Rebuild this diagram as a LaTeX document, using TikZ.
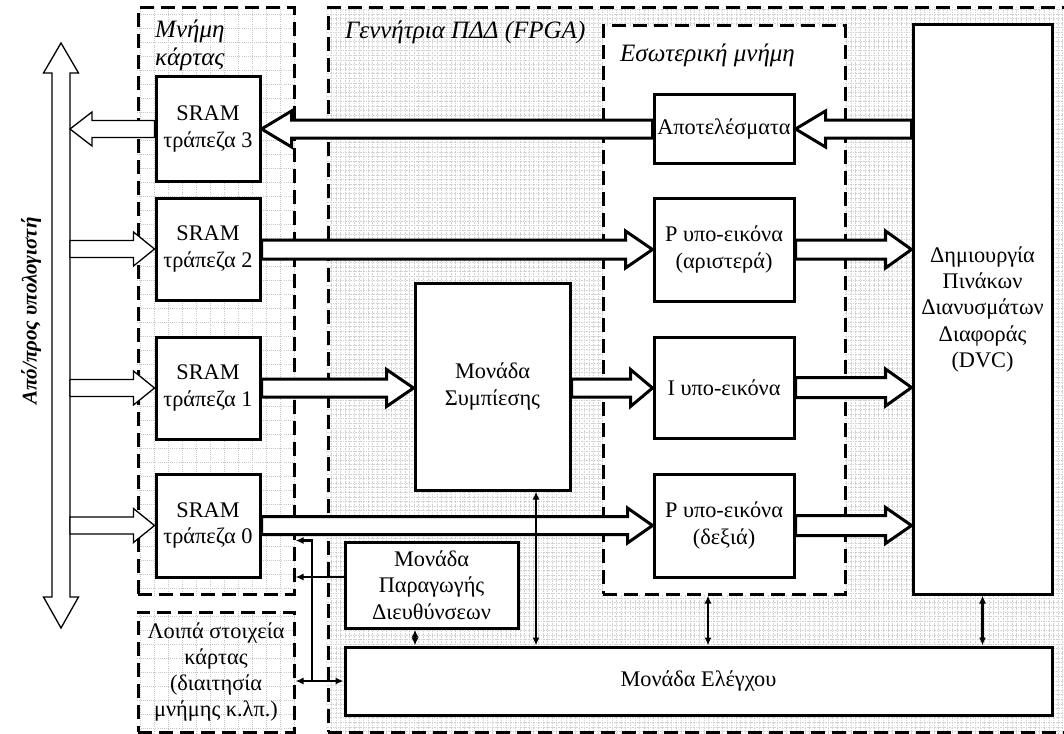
\documentclass[tikz,border=0pt]{standalone}
\usepackage{fontspec}
\setmainfont{Liberation Serif}
\usetikzlibrary{arrows.meta,calc,backgrounds}
\newcommand\blockarrow[6]{%
  \draw[#1] let \p1=#2, \p2=#3 in
  (\x1,{\y2+#5}) -- ({\x2+(#4)},{\y2+#5}) -- ({\x2+(#4)},{\y2+#6}) -- (\x2,\y2)
  -- ({\x2+(#4)},{\y2-#6}) -- ({\x2+(#4)},{\y2-#5}) -- (\x1,{\y2-#5}) -- cycle;}
\tikzset{
  txt/.style={font=\fontsize{22.3}{26.3}\selectfont},
  lab/.style={font=\fontsize{25}{28}\selectfont\itshape, inner sep=0pt},
  box/.style={txt, draw, line width=3pt, fill=white, align=center, inner sep=0pt},
  region/.style={txt, draw, line width=3pt, dash pattern=on 14pt off 7pt, inner sep=0pt, align=center},
  bthick/.style={draw, fill=white, line width=3pt},
  bthin/.style={draw, fill=white, line width=1.3pt},
  conn/.style={line width=2.3pt, {Latex[length=8pt,width=7pt]}-{Latex[length=8pt,width=7pt]}},
  conn1/.style={line width=2.3pt, -{Latex[length=8pt,width=7pt]}},
  finegrid/.style={gray!35, line width=0.35pt, dash pattern=on 0.35pt off 1.3pt},
  cardgrid/.style={gray!45, line width=0.8pt, dash pattern=on 0.8pt off 1.3pt},
}
\begin{document}
\begin{tikzpicture}[x=1pt,y=-1pt]
\useasboundingbox (0,0) rectangle (1064,733);
% regions
\node[region, minimum width=747, minimum height=724] (fpga) at (701.5,370) {};
\node[region, fill=white, minimum width=242, minimum height=568] (imem) at (724,310) {};
\node[region, minimum width=156, minimum height=586] (card) at (216,301) {};
\node[region, minimum width=156, minimum height=120] (other) at (216,672) {Λοιπά στοιχεία\\κάρτας\\(διαιτησία\\μνήμης κ.λπ.)};
\begin{scope}[on background layer]
  \begin{scope}
    \clip (fpga.south west) rectangle (fpga.north east);
    \draw[finegrid] (fpga.south west) grid[step=4.6pt] (fpga.north east);
  \end{scope}
  \begin{scope}
    \clip (card.south west) rectangle (card.north east);
    \draw[cardgrid] (card.south west) grid[step=14pt] (card.north east);
  \end{scope}
  \begin{scope}
    \clip (other.south west) rectangle (other.north east);
    \draw[cardgrid] (other.south west) grid[step=14pt] (other.north east);
  \end{scope}
\end{scope}
% labels
\node[lab, anchor=north west, align=left] (cardlab) at (155,20) {Μνήμη\\κάρτας};
\node[lab, anchor=base west] (fpgalab) at (345,39) {Γεννήτρια ΠΔΔ (FPGA)};
\node[lab, anchor=base west] (imemlab) at (620,62) {Εσωτερική μνήμη};
\node[font=\fontsize{21}{24}\selectfont\bfseries\itshape, rotate=90] (pc) at (31,311) {Από/προς υπολογιστή};
% boxes
\node[box, minimum width=104, minimum height=104] (sram3) at (208,129) {SRAM\\τράπεζα 3};
\node[box, minimum width=104, minimum height=102] (sram2) at (208,249) {SRAM\\τράπεζα 2};
\node[box, minimum width=104, minimum height=102] (sram1) at (208,388) {SRAM\\τράπεζα 1};
\node[box, minimum width=104, minimum height=103] (sram0) at (208,525.5) {SRAM\\τράπεζα 0};
\node[box, minimum width=140, minimum height=68] (res) at (724,129) {Αποτελέσματα};
\node[box, minimum width=140, minimum height=103] (pl) at (724,249.5) {P υπο-εικόνα\\(αριστερά)};
\node[box, minimum width=140, minimum height=101] (isub) at (724,387.5) {I υπο-εικόνα};
\node[box, minimum width=140, minimum height=103] (pr) at (724,525.5) {P υπο-εικόνα\\(δεξιά)};
\node[box, minimum width=155, minimum height=207] (comp) at (492.5,386.5) {Μονάδα\\Συμπίεσης};
\node[box, minimum width=139, minimum height=569] (dvc) at (982.5,309.5) {Δημιουργία\\Πινάκων\\Διανυσμάτων\\Διαφοράς\\(DVC)};
\node[box, minimum width=173, minimum height=86] (addr) at (431.5,585) {Μονάδα\\Παραγωγής\\Διευθύνσεων};
\node[box, minimum width=707, minimum height=68] (ctrl) at (698.5,681) {Μονάδα Ελέγχου};
% bus
\draw[bthin] (61,43) -- (78.5,73) -- (70,73) -- (70,597) -- (78.5,597) -- (61,628)
  -- (43.5,597) -- (52,597) -- (52,73) -- (43.5,73) -- cycle;
\coordinate (busR) at (70,300);
% thin block arrows
\blockarrow{bthin}{(sram3.west)}{(busR |- sram3.west)}{22pt}{8.5pt}{17pt}
\blockarrow{bthin}{(busR |- sram2.west)}{(sram2.west)}{-21pt}{8.5pt}{17pt}
\blockarrow{bthin}{(busR |- sram1.west)}{(sram1.west)}{-21pt}{8.5pt}{17pt}
\blockarrow{bthin}{(busR |- sram0.west)}{(sram0.west)}{-21pt}{8.5pt}{17pt}
% thick block arrows
\blockarrow{bthick}{(res.west)}{(sram3.east)}{30pt}{9pt}{18pt}
\blockarrow{bthick}{(dvc.west |- res.west)}{(res.east)}{30pt}{9pt}{18pt}
\blockarrow{bthick}{(sram2.east)}{(pl.west)}{-27pt}{9.5pt}{18.5pt}
\blockarrow{bthick}{(pl.east)}{(dvc.west |- pl.east)}{-26pt}{9.5pt}{18.5pt}
\blockarrow{bthick}{(sram1.east)}{(comp.west |- sram1.east)}{-27pt}{9pt}{18.5pt}
\blockarrow{bthick}{(comp.east)}{(isub.west |- sram1.east)}{-22pt}{9pt}{18.5pt}
\blockarrow{bthick}{(isub.east)}{(dvc.west |- isub.east)}{-26pt}{10pt}{18.5pt}
\blockarrow{bthick}{(sram0.east)}{(pr.west)}{-25pt}{9pt}{17.5pt}
\blockarrow{bthick}{(pr.east)}{(dvc.west |- pr.east)}{-26pt}{10pt}{18pt}
% control connectors
\coordinate (xcomp) at (536,0);
\coordinate (xaddr) at (415,0);
\coordinate (xim) at (708,0);
\coordinate (xv) at (312,0);
\coordinate (yaddr) at (0,577);
\draw[conn] (xcomp |- comp.south) -- (xcomp |- ctrl.north);
\draw[conn] (xaddr |- addr.south) -- (xaddr |- ctrl.north);
\draw[conn] (xim |- imem.south) -- (xim |- ctrl.north);
\draw[conn] (dvc.south) -- (dvc.south |- ctrl.north);
\draw[conn] (other.east |- ctrl.west) -- (ctrl.west);
\draw[conn1] (xv |- ctrl.west) -- (xv |- addr.north) -- (card.east |- addr.north);
\draw[conn1] (addr.west |- yaddr) -- (card.east |- yaddr);
\end{tikzpicture}
\end{document}
